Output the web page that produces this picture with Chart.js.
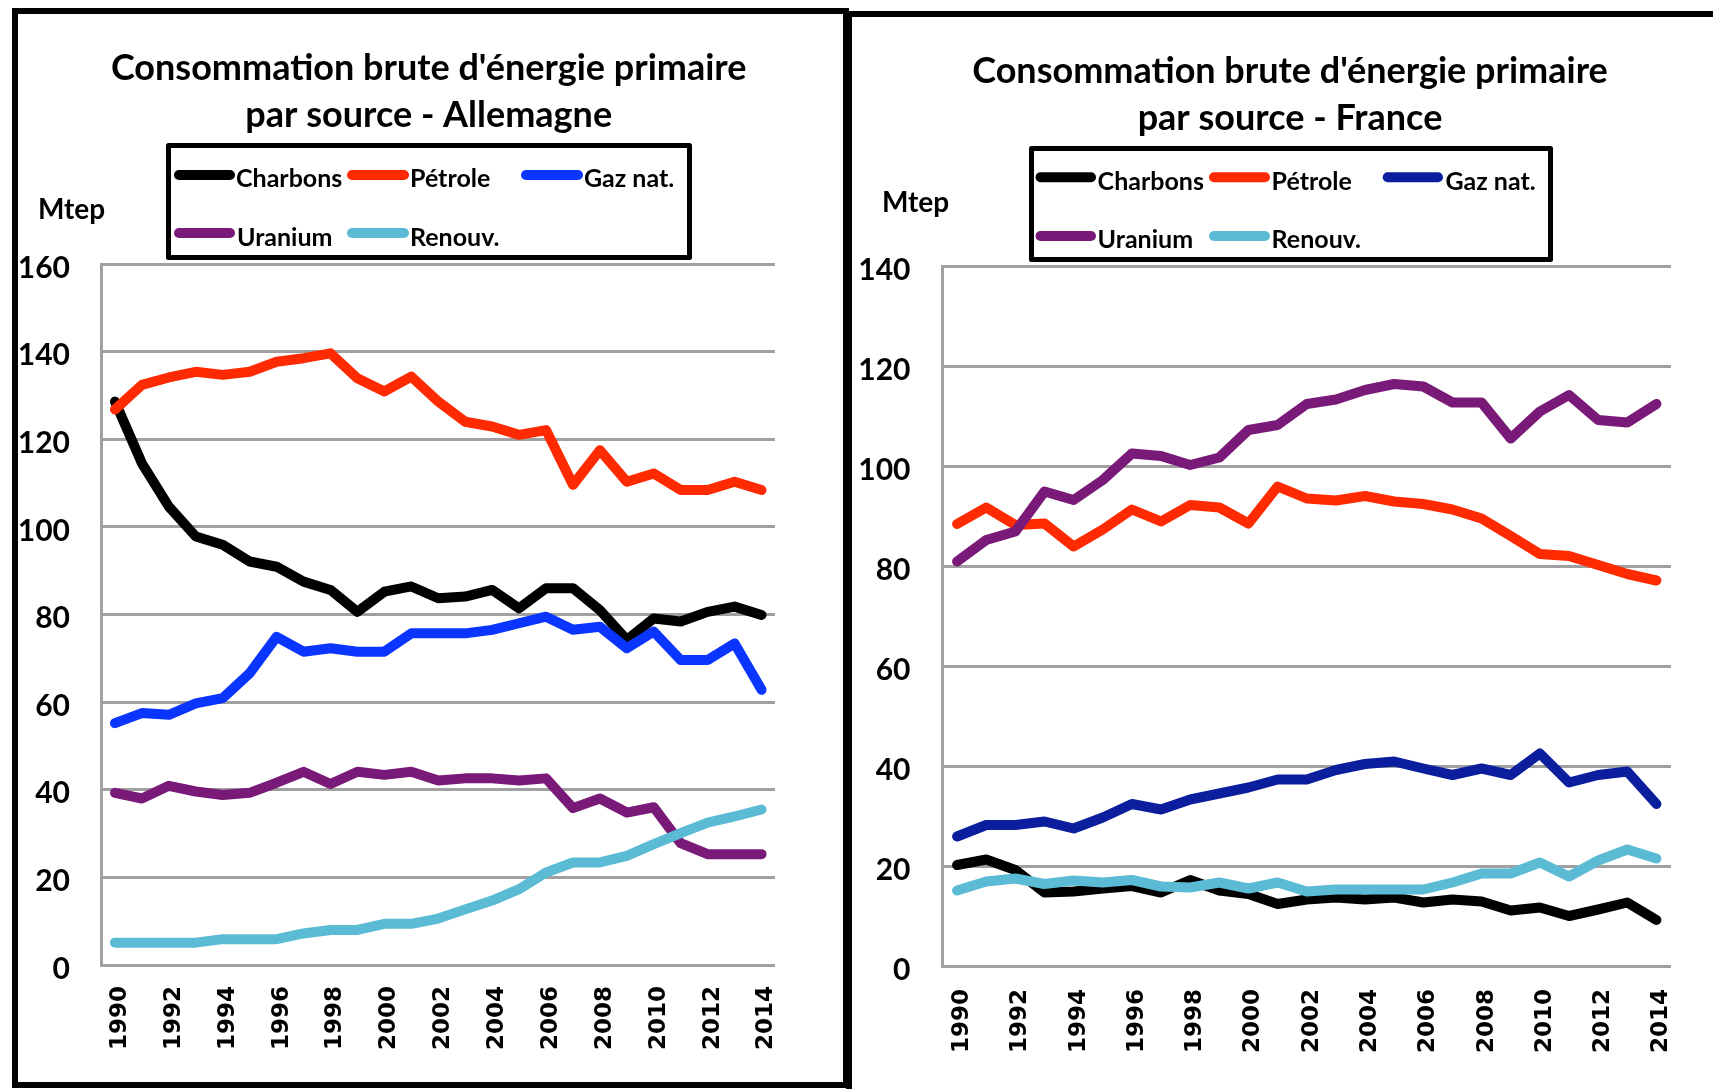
<!DOCTYPE html>
<html><head><meta charset="utf-8">
<script src="https://cdn.jsdelivr.net/npm/chart.js@4"></script>
<style>
html,body{margin:0;padding:0;background:#fff}
body{width:1713px;height:1089px;overflow:hidden;position:relative}
canvas{position:absolute;top:0}
.frame{position:absolute;border:6px solid #000;box-sizing:border-box;pointer-events:none}
</style></head><body>
<canvas id="de" width="848" height="1089" style="left:0;width:848px;height:1089px"></canvas>
<canvas id="fr" width="865" height="1089" style="left:848px;width:865px;height:1089px"></canvas>
<div class="frame" style="left:12px;top:8px;width:837px;height:1080px"></div>
<div class="frame" style="left:846px;top:11px;width:900px;height:1100px"></div>
<script>
// ---- Data (Mtep) ----
const years = ['1990','1991','1992','1993','1994','1995','1996','1997','1998','1999','2000','2001','2002','2003','2004','2005','2006','2007','2008','2009','2010','2011','2012','2013','2014'];
const seriesNames = ['Charbons','Pétrole','Gaz nat.','Uranium','Renouv.'];

const deCharbons = [128.6,114.5,104.6,97.8,95.9,92.1,90.9,87.5,85.6,80.6,85.2,86.4,83.7,84.1,85.6,81.4,86.0,86.0,81.0,74.2,79.1,78.4,80.6,81.8,79.9];
const dePetrole  = [126.8,132.4,134.1,135.4,134.7,135.4,137.7,138.5,139.6,133.9,130.9,134.3,128.6,124.0,122.9,121.0,122.1,109.6,117.5,110.3,112.2,108.4,108.4,110.3,108.4];
const deGaz      = [55.2,57.5,57.1,59.7,60.9,66.6,74.9,71.5,72.3,71.5,71.5,75.7,75.7,75.7,76.5,78.0,79.5,76.5,77.2,72.3,76.1,69.6,69.6,73.4,62.8];
const deUranium  = [39.3,38.0,40.9,39.6,38.8,39.3,41.6,44.1,41.3,44.1,43.4,44.1,42.1,42.6,42.6,42.1,42.6,35.8,38.0,34.8,36.0,27.8,25.3,25.3,25.3];
const deRenouv   = [5.1,5.1,5.1,5.1,5.9,5.9,5.9,7.2,8.0,8.0,9.4,9.4,10.6,12.7,14.7,17.3,21.1,23.4,23.4,24.9,27.6,30.1,32.5,33.9,35.5];

const frCharbons = [20.2,21.3,19.2,14.7,14.9,15.5,16.0,14.7,17.2,15.1,14.4,12.4,13.3,13.7,13.3,13.7,12.7,13.3,12.9,11.1,11.7,10.0,11.3,12.7,9.2];
const frPetrole  = [88.4,91.7,88.2,88.5,83.9,87.3,91.3,88.9,92.2,91.7,88.5,95.9,93.5,93.1,94.0,92.9,92.4,91.3,89.5,86.0,82.4,82.0,80.2,78.4,77.1];
const frGaz      = [25.9,28.2,28.2,28.9,27.5,29.7,32.4,31.3,33.3,34.5,35.7,37.3,37.3,39.2,40.4,40.9,39.5,38.2,39.5,38.2,42.5,36.7,38.2,38.9,32.4];
const frUranium  = [80.9,85.2,86.9,94.9,93.2,97.2,102.5,102.0,100.2,101.7,107.2,108.2,112.4,113.3,115.2,116.4,115.9,112.7,112.7,105.5,110.9,114.2,109.2,108.7,112.4];
const frRenouv   = [15.1,16.9,17.5,16.4,17.1,16.7,17.2,15.9,15.7,16.7,15.5,16.7,14.9,15.3,15.3,15.3,15.3,16.7,18.5,18.5,20.7,17.9,21.1,23.3,21.5];

const deTicksY = {min: 0, max: 160, step: 20};
const frTicksY = {min: 0, max: 140, step: 20};

// ---- Styles ----
const deColors = ['#000000','#FF2A00','#0A35FF','#7A1A78','#5BBAD4'];
const frColors = ['#000000','#FF2A00','#0A1E9E','#7A1A78','#5BBAD4'];
const GRID = '#a0a0a0';

function makeDatasets(values, colors) {
  return values.map((v, i) => ({
    label: seriesNames[i],
    data: v,
    borderColor: colors[i],
    backgroundColor: colors[i],
    borderWidth: 10,
    pointRadius: 0,
    tension: 0,
    fill: false,
    borderCapStyle: 'round',
    borderJoinStyle: 'round',
    order: values.length - 1 - i
  }));
}

function decorPlugin(cfg) {
  return {
    id: 'decor',
    afterDraw(chart) {
      const ctx = chart.ctx;
      ctx.save();
      ctx.fillStyle = '#000';
      ctx.textBaseline = 'alphabetic';
      // title
      ctx.font = 'bold 36px Lato';
      ctx.textAlign = 'center';
      cfg.title.forEach((t, i) => ctx.fillText(t, cfg.titleX, cfg.titleY[i]));
      // legend box
      ctx.lineWidth = 5;
      ctx.strokeStyle = '#000';
      ctx.lineJoin = 'round';
      const b = cfg.box;
      ctx.strokeRect(b.x + 2.5, b.y + 2.5, b.w - 5, b.h - 5);
      // legend items
      ctx.font = 'bold 25px Lato';
      ctx.textAlign = 'left';
      chart.data.datasets.forEach((ds, i) => {
        const p = cfg.items[i];
        ctx.strokeStyle = ds.borderColor;
        ctx.lineWidth = 10;
        ctx.lineCap = 'round';
        ctx.beginPath();
        ctx.moveTo(p[0] + 5, p[2]);
        ctx.lineTo(p[1] - 5, p[2]);
        ctx.stroke();
        ctx.fillStyle = '#000';
        ctx.fillText(ds.label, p[3], p[4]);
      });
      // unit
      ctx.font = 'bold 28px Lato';
      ctx.fillText('Mtep', cfg.unit[0], cfg.unit[1]);
      ctx.restore();
    }
  };
}

function makeChart(id, values, colors, ticksY, geo, decor) {
  const ctx = document.getElementById(id).getContext('2d');
  return new Chart(ctx, {
    type: 'line',
    data: { labels: years, datasets: makeDatasets(values, colors) },
    options: {
      responsive: false,
      animation: false,
      devicePixelRatio: 1,
      layout: { padding: { left: 0, top: geo.top, right: geo.right, bottom: 0 } },
      plugins: { legend: { display: false }, title: { display: false }, tooltip: { enabled: false } },
      scales: {
        x: {
          type: 'category',
          offset: true,
          grid: { display: false, drawTicks: false },
          border: { display: false },
          ticks: {
            autoSkip: false,
            minRotation: 90,
            maxRotation: 90,
            padding: geo.xPad,
            labelOffset: 5,
            color: '#000',
            font: { family: 'DejaVu Sans', weight: 'bold', size: 23 },
            callback: function(v, i) { return i % 2 === 0 ? years[i] : ''; }
          },
          afterFit: (s) => { s.height = geo.xHeight; }
        },
        y: {
          min: ticksY.min,
          max: ticksY.max,
          grid: { color: GRID, lineWidth: 3, drawTicks: false },
          border: { display: true, color: GRID, width: 3 },
          ticks: {
            stepSize: ticksY.step,
            padding: geo.yPad,
            labelOffset: 4,
            color: '#000',
            font: { family: 'Lato', weight: 'bold', size: 30 }
          },
          afterFit: (s) => { s.width = geo.yWidth; }
        }
      }
    },
    plugins: [decorPlugin(decor)]
  });
}

makeChart('de',
  [deCharbons, dePetrole, deGaz, deUranium, deRenouv], deColors, deTicksY,
  { top: 264, right: 73, xHeight: 124, xPad: 21, yWidth: 101.5, yPad: 31.5 },
  {
    title: ["Consommation brute d'énergie primaire", 'par source - Allemagne'],
    titleX: 428.7, titleY: [80, 126.7],
    box: { x: 166, y: 143, w: 526, h: 117 },
    items: [[174,235,175,236,187],[347,409,175,410,187],[521,583,175,584,187],[174,235,233,237,246],[347,409,233,410,246]],
    unit: [38, 219]
  });

makeChart('fr',
  [frCharbons, frPetrole, frGaz, frUranium, frRenouv], frColors, frTicksY,
  { top: 266, right: 42, xHeight: 123, xPad: 23, yWidth: 94.5, yPad: 32 },
  {
    title: ["Consommation brute d'énergie primaire", 'par source - France'],
    titleX: 442, titleY: [82.7, 130],
    box: { x: 181, y: 146, w: 524, h: 116 },
    items: [[187.5,248,177.3,249.6,190],[361,422,177.3,423.6,190],[534.7,595,177.3,597.5,190],[187.5,248,236,249.6,248],[361,422,236,423.6,248]],
    unit: [34, 212]
  });
</script>
</body></html>
